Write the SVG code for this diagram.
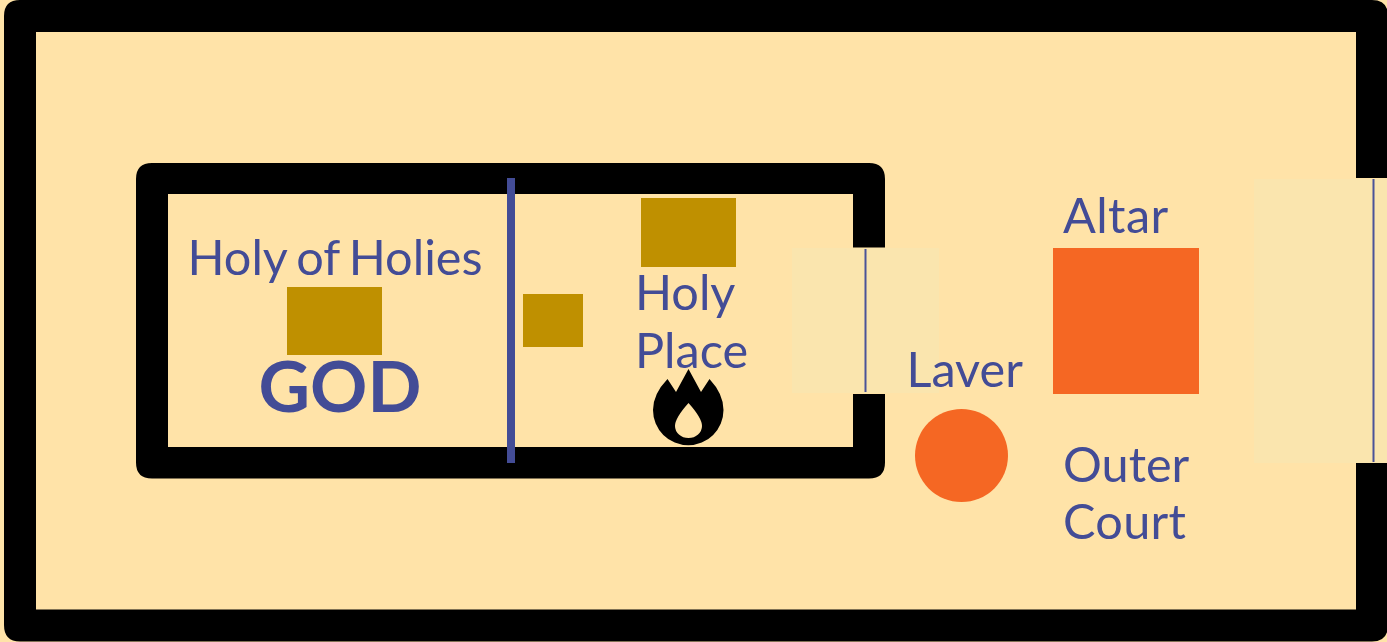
<svg xmlns="http://www.w3.org/2000/svg" width="1387" height="642" viewBox="0 0 1387 642">
<style>
.wall{fill:#000}
.gold{fill:#bf9000}
.fire{fill:#f56723}
.door{fill:#fae5ae}
.curtain{stroke:#4a5398;fill:none}
text{font-family:Lato,"Liberation Sans",sans-serif;fill:#434c96;font-size:48.600px}
</style>
<rect width="1387" height="642" fill="#ffe3a8"/>
<g id="outer-court">
<path class="wall" d="M20 0H1372Q1388 0 1388 16V178H1356V32H36V609.500H1356V463H1388V625Q1388 641.500 1372 641.500H20Q4 641.500 4 625V16Q4 0 20 0Z"/>
<rect class="door" x="1254" y="179" width="133" height="284"/>
<line class="curtain" x1="1373.500" y1="179" x2="1373.500" y2="462" stroke-width="2"/>
<text x="1063" y="482">Outer</text>
<text x="1063" y="539" style="letter-spacing:.3px">Court</text>
</g>
<g id="sanctuary">
<path class="wall" d="M152 163H869Q885 163 885 179V247.500H853V194H168V447H853V394H885V462.500Q885 478.500 869 478.500H152Q136 478.500 136 462.500V179Q136 163 152 163Z"/>
<rect class="door" x="792" y="248" width="147" height="145"/>
<line class="curtain" x1="865.500" y1="249" x2="865.500" y2="392" stroke-width="2"/>
</g>
<g id="veil">
<rect x="507" y="178" width="8" height="285" fill="#434c96"/>
</g>
<g id="holy-of-holies">
<text x="187.500" y="275" style="word-spacing:-3px">Holy of Holies</text>
<rect class="gold" x="287" y="287" width="95" height="68"/>
<text x="258.500" y="411.500" style="font-size:71px;font-weight:700">GOD</text>
</g>
<g id="holy-place">
<rect class="gold" x="641" y="198" width="95" height="69"/>
<rect class="gold" x="523" y="294" width="60" height="53"/>
<text x="635" y="310">Holy</text>
<text x="635" y="368">Place</text>
<path class="wall" fill-rule="evenodd" d="M688.500 369L701 392L709.500 379Q723.500 394 723.500 410A35 35 0 0 1 653 410Q653 394 667.500 379L676 392Z M688.500 403Q675 418 675 426A13.500 12 0 0 0 702 426Q702 418 688.500 403Z"/>
</g>
<g id="laver">
<text x="906.500" y="387">Laver</text>
<circle class="fire" cx="961.500" cy="455.500" r="46.500"/>
</g>
<g id="altar">
<text x="1063" y="233" style="letter-spacing:.4px">Altar</text>
<rect class="fire" x="1053" y="248" width="146" height="146"/>
</g>
</svg>
